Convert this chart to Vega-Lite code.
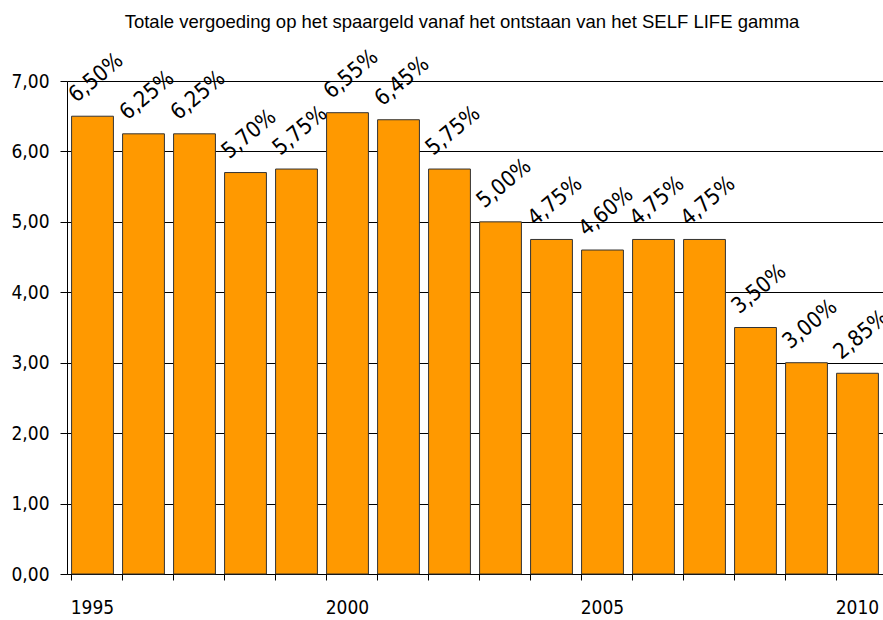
{
  "$schema": "https://vega.github.io/schema/vega-lite/v6.json",
  "width": 816,
  "height": 493,
  "autosize": {"type": "none"},
  "padding": {"left": 67, "top": 81, "right": 0, "bottom": 46},
  "background": "white",
  "title": {
    "text": "Totale vergoeding op het spaargeld vanaf het ontstaan van het SELF LIFE gamma",
    "font": "Liberation Sans, Arial, sans-serif",
    "fontSize": 18.5,
    "fontWeight": "normal",
    "color": "black",
    "anchor": "middle",
    "offset": 14,
    "dx": -13
  },
  "data": {
    "values": [
      {"year": 1995, "v": 6.50},
      {"year": 1996, "v": 6.25},
      {"year": 1997, "v": 6.25},
      {"year": 1998, "v": 5.70},
      {"year": 1999, "v": 5.75},
      {"year": 2000, "v": 6.55},
      {"year": 2001, "v": 6.45},
      {"year": 2002, "v": 5.75},
      {"year": 2003, "v": 5.00},
      {"year": 2004, "v": 4.75},
      {"year": 2005, "v": 4.60},
      {"year": 2006, "v": 4.75},
      {"year": 2007, "v": 4.75},
      {"year": 2008, "v": 3.50},
      {"year": 2009, "v": 3.00},
      {"year": 2010, "v": 2.85}
    ]
  },
  "encoding": {
    "x": {
      "field": "year",
      "type": "ordinal",
      "scale": {"paddingInner": 0.18, "paddingOuter": 0.09},
      "axis": {
        "title": null,
        "bandPosition": 0,
        "labelExpr": "datum.value % 5 == 0 ? datum.label : ''",
        "labelOffset": 0,
        "labelAngle": 0,
        "labelPadding": 18,
        "labelFont": "DejaVu Sans Condensed, Liberation Sans Narrow, Liberation Sans, sans-serif",
        "labelFontSize": 19,
        "labelColor": "black",
        "labelBound": false,
        "labelOverlap": false,
        "tickSize": 6,
        "tickColor": "black",
        "domainColor": "black",
        "grid": false
      }
    },
    "y": {
      "field": "v",
      "type": "quantitative",
      "scale": {"domain": [0, 7], "nice": false},
      "axis": {
        "title": null,
        "values": [0, 1, 2, 3, 4, 5, 6, 7],
        "labelExpr": "replace(format(datum.value, '.2f'), '.', ',')",
        "labelFont": "DejaVu Sans Condensed, Liberation Sans Narrow, Liberation Sans, sans-serif",
        "labelFontSize": 19,
        "labelColor": "black",
        "labelPadding": 11,
        "tickSize": 7,
        "tickColor": "black",
        "domainColor": "black",
        "grid": true,
        "gridColor": "black",
        "gridOpacity": 1
      }
    }
  },
  "layer": [
    {
      "mark": {"type": "bar", "color": "#FF9900", "stroke": "#333333", "strokeWidth": 1}
    },
    {
      "mark": {
        "type": "text",
        "align": "left",
        "baseline": "alphabetic",
        "angle": -40,
        "dx": 12,
        "dy": -7,
        "font": "DejaVu Sans Condensed, Liberation Sans Narrow, Liberation Sans, sans-serif",
        "fontSize": 22,
        "color": "black",
        "text": {"expr": "replace(format(datum.v, '.2f'), '.', ',') + '%'"}
      },
      "encoding": {
        "x": {"field": "year", "type": "ordinal", "bandPosition": 0}
      }
    }
  ],
  "config": {"view": {"stroke": null}}
}
